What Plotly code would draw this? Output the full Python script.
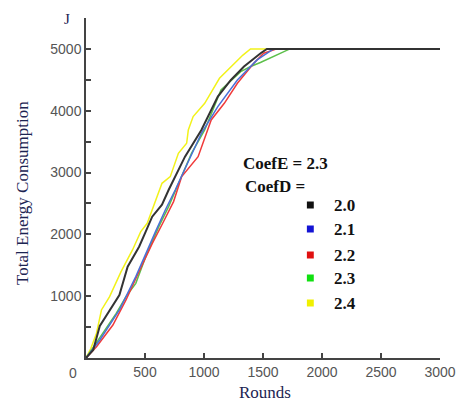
import plotly.graph_objects as go

# Rounds / total energy (J) for each CoefD value, CoefE = 2.3
rounds_20 = [0, 61, 117, 200, 283, 353, 450, 506, 561, 644, 700, 839, 978, 1117, 1228, 1339, 1422, 1480, 1533, 3000]
energy_20 = [0, 129, 518, 777, 1019, 1478, 1800, 2044, 2286, 2480, 2718, 3257, 3689, 4228, 4498, 4714, 4849, 4930, 5000, 5000]

rounds_21 = [0, 117, 283, 422, 589, 672, 756, 978, 1117, 1283, 1450, 1530, 1589, 3000]
energy_21 = [0, 291, 777, 1316, 2044, 2395, 2718, 3635, 4066, 4498, 4822, 4930, 5000, 5000]

rounds_22 = [0, 89, 228, 339, 450, 561, 650, 742, 811, 950, 1061, 1172, 1283, 1422, 1506, 1617, 3000]
energy_22 = [0, 183, 534, 939, 1400, 1850, 2180, 2530, 2934, 3257, 3851, 4120, 4444, 4768, 4930, 5000, 5000]

rounds_23 = [0, 144, 256, 339, 422, 506, 617, 700, 894, 1006, 1144, 1311, 1400, 1478, 1560, 1650, 1728, 3000]
energy_23 = [0, 399, 723, 992, 1208, 1640, 2125, 2449, 3312, 3689, 4336, 4633, 4720, 4780, 4850, 4930, 5000, 5000]

rounds_24 = [0, 40, 89, 131, 200, 297, 394, 464, 519, 589, 644, 714, 783, 853, 867, 908, 1006, 1131, 1256, 1330, 1394, 3000]
energy_24 = [0, 150, 400, 777, 992, 1397, 1748, 2044, 2179, 2557, 2826, 2934, 3312, 3474, 3689, 3905, 4120, 4525, 4768, 4900, 5000, 5000]

coefd_labels = ["2.0", "2.1", "2.2", "2.3", "2.4"]
line_colors = ["#333333", "#4a6fd8", "#f03a3a", "#5cbf4a", "#f2f21a"]
key_colors = ["#111111", "#1414d4", "#e01010", "#10e010", "#f0f000"]

series = [(rounds_20, energy_20), (rounds_21, energy_21), (rounds_22, energy_22),
          (rounds_23, energy_23), (rounds_24, energy_24)]

fig = go.Figure()
# draw yellow first, black last (black sits on top)
for i in [4, 3, 2, 1, 0]:
    xs, ys = series[i]
    fig.add_trace(go.Scatter(x=xs, y=ys, mode="lines", name=coefd_labels[i],
                             line=dict(color=line_colors[i], width=2 if i == 0 else 1.5),
                             showlegend=False))

# plot area in pixels: x 86..445, y 18..358
L, R, T, B = 86, 445, 18, 358
def px(x):
    return (x - L) / (R - L)
def py(y):
    return (B - y) / (B - T)

serif = "Liberation Serif, Times New Roman, serif"
ann = []
ann.append(dict(text="<b>CoefE = 2.3</b>", x=px(243), y=py(163), xanchor="left", yanchor="middle",
                font=dict(family=serif, size=17, color="#111")))
ann.append(dict(text="<b>CoefD =</b>", x=px(245), y=py(186), xanchor="left", yanchor="middle",
                font=dict(family=serif, size=17, color="#111")))
key_y = [205, 229, 255, 278, 303]
shapes = []
for lab, col, yy in zip(coefd_labels, key_colors, key_y):
    ann.append(dict(text="<b>" + lab + "</b>", x=px(335), y=py(yy), xanchor="left", yanchor="middle",
                    font=dict(family=serif, size=17, color="#111")))
    shapes.append(dict(type="rect", xref="paper", yref="paper",
                       x0=px(310), x1=px(317), y0=py(yy + 3.5), y1=py(yy - 3.5),
                       fillcolor=col, line=dict(width=0)))

ann.append(dict(text="Total Energy Consumption", textangle=-90, x=px(22), y=py(193),
                xanchor="center", yanchor="middle",
                font=dict(family=serif, size=17, color="#1c2452")))
ann.append(dict(text="Rounds", x=px(268), y=py(392), xanchor="center", yanchor="middle",
                font=dict(family=serif, size=17, color="#1c2452")))
ann.append(dict(text="J", x=px(67), y=py(19), xanchor="center", yanchor="middle",
                font=dict(family=serif, size=15, color="#1c2452")))
ann.append(dict(text="0", x=px(73), y=py(373), xanchor="center", yanchor="middle",
                font=dict(family="Liberation Sans, Arial, sans-serif", size=14, color="#555")))
for a in ann:
    a.setdefault("xref", "paper")
    a.setdefault("yref", "paper")
    a["showarrow"] = False

tickfont = dict(family="Liberation Sans, Arial, sans-serif", size=14, color="#555")
fig.update_layout(
    width=468, height=403,
    margin=dict(l=L, r=468 - R, t=T, b=403 - B),
    plot_bgcolor="white", paper_bgcolor="white",
    annotations=ann, shapes=shapes,
    xaxis=dict(range=[0, 3000], tickvals=[500, 1000, 1500, 2000, 2500, 3000],
               ticks="inside", ticklen=5, tickcolor="#444", tickwidth=1.5,
               showline=True, linecolor="#444", linewidth=1.5, showgrid=False, zeroline=False,
               tickfont=tickfont),
    yaxis=dict(range=[0, 5500], tickvals=[1000, 2000, 3000, 4000, 5000],
               ticks="inside", ticklen=5, tickcolor="#444", tickwidth=1.5,
               minor=dict(tickvals=[500, 1500, 2500, 3500, 4500, 5500], ticks="inside",
                          ticklen=5, tickcolor="#444", tickwidth=1.5),
               showline=True, linecolor="#444", linewidth=1.5, showgrid=False, zeroline=False,
               tickfont=tickfont),
)

# page body has a default margin; drop it so the figure sits at the window's corner
fig.write_html("out.html", config={"displayModeBar": False},
               post_script="document.body.style.margin='0';")
